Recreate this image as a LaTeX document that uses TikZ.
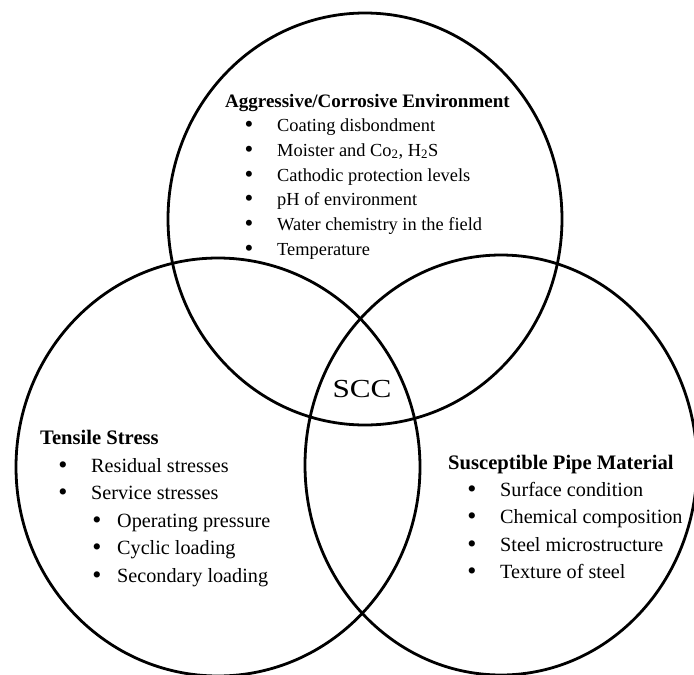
\documentclass[tikz,border=0pt]{standalone}
\usepackage{fontspec}
\setmainfont{Liberation Serif}
\begin{document}
\begin{tikzpicture}[x=1pt,y=-1pt,
  ring/.style={draw=black,line width=2.8pt},
  headtop/.style={anchor=base west,inner sep=0pt,font=\fontsize{19}{22}\selectfont\bfseries},
  itemtop/.style={anchor=base west,inner sep=0pt,font=\fontsize{18.4}{22}\selectfont},
  dottop/.style={anchor=base,inner sep=0pt,font=\fontsize{25}{22}\selectfont},
  headside/.style={anchor=base west,inner sep=0pt,font=\fontsize{20.6}{24}\selectfont\bfseries},
  itemside/.style={anchor=base west,inner sep=0pt,font=\fontsize{20.2}{24}\selectfont},
  dotside/.style={anchor=base,inner sep=0pt,font=\fontsize{26}{24}\selectfont},
  core/.style={anchor=base,inner sep=0pt,font=\fontsize{26}{30}\selectfont}
]
\useasboundingbox (0,0) rectangle (694,675);

% the three overlapping factor sets
\draw[ring] (365,219) ellipse [x radius=197pt, y radius=206pt];
\draw[ring] (218,467) ellipse [x radius=202pt, y radius=209pt];
\draw[ring] (501,465) ellipse [x radius=196pt, y radius=210pt];

% environment
\node[headtop] (envh) at (225,107) {Aggressive/Corrosive Environment};
\foreach \y/\t [count=\i] in {131/Coating disbondment,
    156/{Moister and Co\textsubscript{2}, H\textsubscript{2}S},
    181/Cathodic protection levels,
    205/pH of environment,
    230/Water chemistry in the field,
    255/Temperature}{
  \node[dottop] (envb\i) at (249,\y+1) {\textbullet};
  \node[itemtop] (envt\i) at (277,\y) {\t};
}

% stress
\node[headside] (strh) at (40,444) {Tensile Stress};
\node[dotside] (strb1) at (63,473) {\textbullet};
\node[itemside] (strt1) at (91,472) {Residual stresses};
\node[dotside] (strb2) at (63,500) {\textbullet};
\node[itemside] (strt2) at (91,499) {Service stresses};
\foreach \y/\t [count=\i] in {527/Operating pressure,554/Cyclic loading,582/Secondary loading}{
  \node[dotside] (subb\i) at (97,\y+1) {\textbullet};
  \node[itemside] (subt\i) at (117,\y) {\t};
}

% material
\node[headside] (math) at (448,469) {Susceptible Pipe Material};
\foreach \y/\t [count=\i] in {496/Surface condition,523/Chemical composition,
    551/Steel microstructure,578/Texture of steel}{
  \node[dotside] (matb\i) at (472,\y+1) {\textbullet};
  \node[itemside] (matt\i) at (500,\y) {\t};
}

% common intersection
\node[core] (scc) at (362,397) {\scalebox{1.2}[1]{SCC}};
\end{tikzpicture}
\end{document}
